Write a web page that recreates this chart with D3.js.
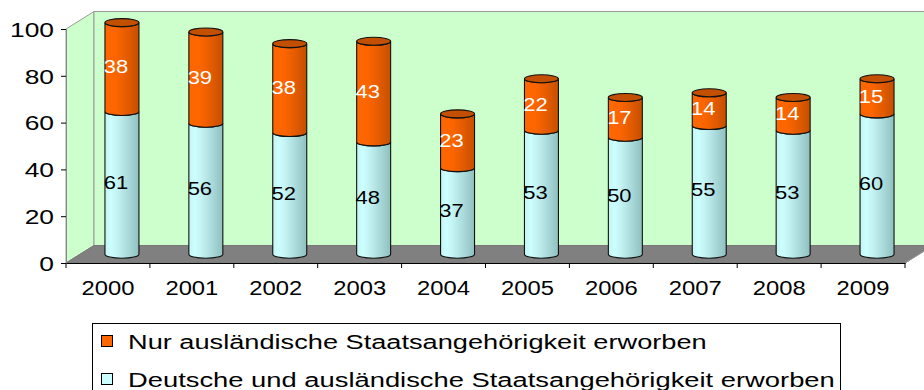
<!DOCTYPE html>
<html>
<head>
<meta charset="utf-8">
<script src="https://cdn.jsdelivr.net/npm/d3@7/dist/d3.min.js"></script>
<style>
  html, body { margin: 0; padding: 0; background: #fff; }
  svg { display: block; }
  text { font-family: "Liberation Sans", Arial, sans-serif; }
</style>
</head>
<body>
<svg id="chart" width="924" height="390"></svg>
<script>
// Einbürgerungen nach Staatsangehörigkeit (Anteile in %)
const years = ["2000", "2001", "2002", "2003", "2004", "2005", "2006", "2007", "2008", "2009"];
const deutscheUndAuslaendisch = [61, 56, 52, 48, 37, 53, 50, 55, 53, 60];
const nurAuslaendisch = [38, 39, 38, 43, 23, 22, 17, 14, 14, 15];
const yTicks = [0, 20, 40, 60, 80, 100];
const seriesNames = [
  "Nur ausländische Staatsangehörigkeit erworben",
  "Deutsche und ausländische Staatsangehörigkeit erworben"
];

const svg = d3.select("#chart");
const defs = svg.append("defs");

// plot frame (front plane) and 3D depth offset
const plotLeft = 66, plotRight = 905, plotBottom = 263, plotTop = 29;
const depthX = 28, depthY = -17.5;
const stretch = 1.22; // horizontally widened lettering

const x = d3.scaleBand().domain(years).range([plotLeft, plotRight]).paddingInner(0).paddingOuter(0);
const y = d3.scaleLinear().domain([0, 100]).range([plotBottom, plotTop]);

// gradients for cylinder shading
function hGrad(id, stops) {
  const g = defs.append("linearGradient").attr("id", id)
    .attr("x1", "0%").attr("x2", "100%").attr("y1", "0%").attr("y2", "0%");
  stops.forEach(([o, c]) => g.append("stop").attr("offset", o).attr("stop-color", c));
}
hGrad("gCyan", [["0%", "#c4f4f4"], ["18%", "#ccffff"], ["40%", "#c2f0f0"], ["70%", "#a8d8d8"], ["100%", "#8fbfbf"]]);
hGrad("gOrange", [["0%", "#ff6600"], ["35%", "#fb6500"], ["70%", "#e05a00"], ["100%", "#c44f00"]]);

// walls and floor
const y0 = y(0), y100 = y(100);
const backRight = plotRight + depthX + 10;
svg.append("polygon") // left wall
  .attr("points", [[plotLeft, y100], [plotLeft + depthX, y100 + depthY], [plotLeft + depthX, y0 + depthY], [plotLeft, y0]].join(" "))
  .attr("fill", "#ccffcc").attr("stroke", "#999").attr("stroke-width", 1);
svg.append("polygon") // back wall
  .attr("points", [[plotLeft + depthX, y100 + depthY], [backRight, y100 + depthY], [backRight, y0 + depthY], [plotLeft + depthX, y0 + depthY]].join(" "))
  .attr("fill", "#ccffcc").attr("stroke", "#999").attr("stroke-width", 1);
svg.append("polygon") // floor
  .attr("points", [[plotLeft, y0], [plotLeft + depthX, y0 + depthY], [plotRight + depthX, y0 + depthY], [plotRight, y0]].join(" "))
  .attr("fill", "#808080").attr("stroke", "#777").attr("stroke-width", 1);
// floor right edge
svg.append("line")
  .attr("x1", plotRight).attr("y1", y0).attr("x2", plotRight + depthX).attr("y2", y0 + depthY)
  .attr("stroke", "#999").attr("stroke-width", 1);

// Y axis
const yAxis = svg.append("g").attr("transform", `translate(${plotLeft},0)`)
  .call(d3.axisLeft(y).tickValues(yTicks).tickSize(5).tickPadding(8).tickFormat(d3.format("d")));
yAxis.select(".domain").attr("stroke", "#888");
yAxis.selectAll(".tick line").attr("stroke", "#000");
yAxis.selectAll(".tick text")
  .attr("x", null).attr("dy", "0.36em")
  .attr("transform", `translate(-12,0) scale(1.32,1)`)
  .attr("font-size", 20).attr("fill", "#000")
  .attr("font-family", '"Liberation Sans", Arial, sans-serif');

// X axis with ticks at category boundaries
const xAxis = svg.append("g").attr("transform", `translate(0,${y0})`)
  .call(d3.axisBottom(x).tickSize(0).tickPadding(0));
xAxis.select(".domain").attr("stroke", "#000");
xAxis.selectAll(".tick text")
  .attr("y", null).attr("dy", null)
  .attr("transform", `translate(0,32) scale(${stretch},1)`)
  .attr("font-size", 19.5).attr("fill", "#000")
  .attr("font-family", '"Liberation Sans", Arial, sans-serif');
const bounds = years.map(d => x(d)).concat([x(years[years.length - 1]) + x.bandwidth()]);
svg.append("g").selectAll("line").data(bounds).join("line")
  .attr("x1", d => d).attr("x2", d => d)
  .attr("y1", y0).attr("y2", y0 + 5)
  .attr("stroke", "#000");

// cylinders, placed at mid depth
const cylW = x.bandwidth() * 0.405;
const rx = cylW / 2, ry = 4;
const midDX = depthX / 2, midDY = depthY / 2;

function bodyPath(cx, yTop, yBot) {
  const xl = cx - rx, xr = cx + rx;
  return `M${xl},${yTop} L${xl},${yBot} A${rx},${ry} 0 0 0 ${xr},${yBot} L${xr},${yTop} A${rx},${ry} 0 0 1 ${xl},${yTop} Z`;
}

const bars = svg.append("g");
years.forEach((yr, i) => {
  const cx = x(yr) + x.bandwidth() / 2 + midDX;
  const a = deutscheUndAuslaendisch[i];
  const b = nurAuslaendisch[i];
  const yBase = y(0) + midDY, yA = y(a) + midDY, yB = y(a + b) + midDY;

  bars.append("path").attr("d", bodyPath(cx, yA, yBase))
    .attr("fill", "url(#gCyan)").attr("stroke", "#111").attr("stroke-width", 1.1);
  bars.append("path").attr("d", bodyPath(cx, yB, yA))
    .attr("fill", "url(#gOrange)").attr("stroke", "#111").attr("stroke-width", 1.1);
  bars.append("ellipse").attr("cx", cx).attr("cy", yB).attr("rx", rx).attr("ry", ry)
    .attr("fill", "#c25000").attr("stroke", "#111").attr("stroke-width", 1.1);

  // value labels
  const lx = cx - 6;
  bars.append("text")
    .attr("transform", `translate(${lx},${(y(a / 2) + midDY)}) scale(${stretch},1)`)
    .attr("text-anchor", "middle").attr("dy", "0.35em")
    .attr("font-size", 18).attr("fill", "#000").text(a);
  bars.append("text")
    .attr("transform", `translate(${lx},${(y(a + b / 2) + midDY)}) scale(${stretch},1)`)
    .attr("text-anchor", "middle").attr("dy", "0.35em")
    .attr("font-size", 18).attr("fill", "#fff").text(b);
});

// legend
const lg = svg.append("g");
lg.append("rect").attr("x", 92.5).attr("y", 323.5).attr("width", 748).attr("height", 90)
  .attr("fill", "#fff").attr("stroke", "#000").attr("stroke-width", 1);
const legendItems = [
  { name: seriesNames[0], fill: "#ff6600", y: 349, w: 579 },
  { name: seriesNames[1], fill: "#ccffff", y: 387, w: 707 }
];
legendItems.forEach(it => {
  lg.append("rect").attr("x", 101.5).attr("y", it.y - 13.5).attr("width", 11).attr("height", 11)
    .attr("fill", it.fill).attr("stroke", "#000").attr("stroke-width", 1);
  const t = lg.append("text").attr("x", 0).attr("y", 0)
    .attr("font-size", 21).attr("fill", "#000")
    .text(it.name);
  // widen the glyphs uniformly to the legend column width
  const natural = t.node().getComputedTextLength();
  t.attr("transform", `translate(128,${it.y}) scale(${it.w / natural},1)`);
});
</script>
</body>
</html>
